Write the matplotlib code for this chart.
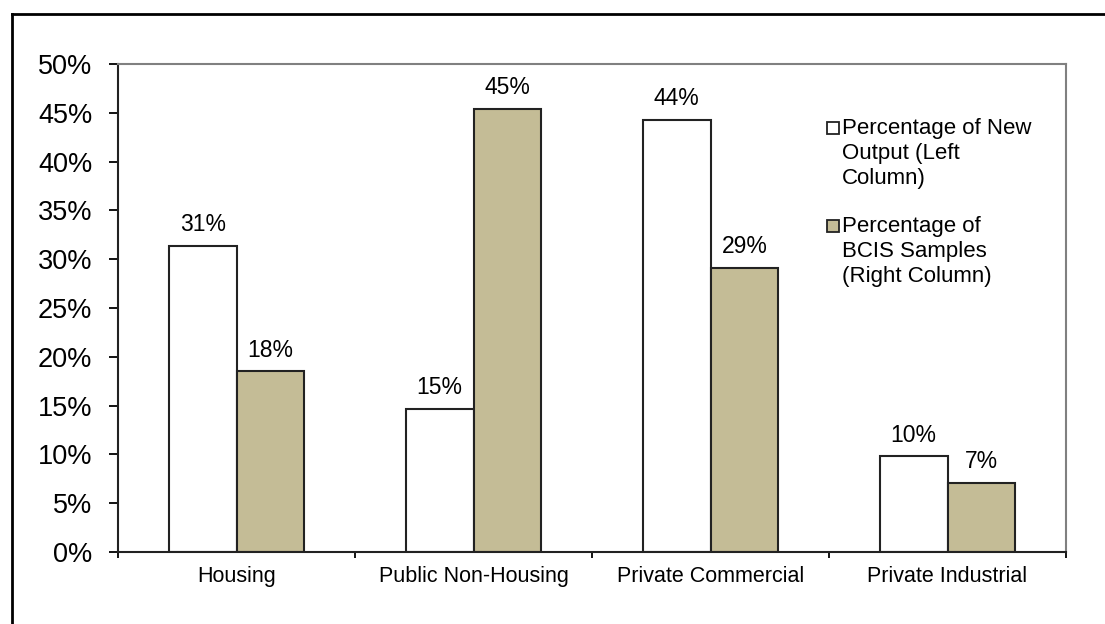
import numpy as np
import matplotlib
matplotlib.use("Agg")
from matplotlib import pyplot as plt
from matplotlib.patches import Rectangle
from matplotlib.lines import Line2D

plt.rcParams['font.family'] = ['Liberation Sans', 'DejaVu Sans']

categories = ["Housing", "Public Non-Housing", "Private Commercial", "Private Industrial"]
new_output = [31.4, 14.7, 44.3, 9.8]      # percentage of new output (left column)
bcis_samples = [18.5, 45.4, 29.1, 7.1]    # percentage of BCIS samples (right column)
new_labels = ["31%", "15%", "44%", "10%"]
bcis_labels = ["18%", "45%", "29%", "7%"]
legend_labels = ["Percentage of New\nOutput (Left\nColumn)",
                 "Percentage of\nBCIS Samples\n(Right Column)"]

tan = "#C4BC96"

fig = plt.figure(figsize=(11.05, 6.24), dpi=100)
ax = fig.add_axes([118/1105, 1 - 552/624, (1066-118)/1105, (552-64)/624])

# outer chart border (top and left visible)
fig.add_artist(Line2D([12/1105, 1.0], [1 - 14/624, 1 - 14/624], color="black", lw=2,
                      transform=fig.transFigure))
fig.add_artist(Line2D([12/1105, 12/1105], [0, 1 - 14/624], color="black", lw=2,
                      transform=fig.transFigure))

x = np.arange(len(categories))
w = 1 / 3.5
b1 = ax.bar(x - w/2, new_output, w, color="white", edgecolor="#222222", lw=1.5)
b2 = ax.bar(x + w/2, bcis_samples, w, color=tan, edgecolor="#222222", lw=1.5)

for rect, lab in zip(b1, new_labels):
    ax.text(rect.get_x() + rect.get_width()/2, rect.get_height() + 1.0, lab,
            ha="center", va="bottom", fontsize=16.5)
for rect, lab in zip(b2, bcis_labels):
    ax.text(rect.get_x() + rect.get_width()/2, rect.get_height() + 1.0, lab,
            ha="center", va="bottom", fontsize=16.5)

ax.set_xlim(-0.5, len(categories) - 0.5)
ax.set_ylim(0, 50)
ax.set_yticks(np.arange(0, 51, 5))
ax.set_yticklabels([f"{v}%" for v in range(0, 51, 5)], fontsize=19.5)
ax.set_xticks(np.arange(-0.5, len(categories), 1))
ax.set_xticklabels([])
ax.set_xticks(x, minor=True)
ax.set_xticklabels(categories, minor=True, fontsize=15.5)
ax.tick_params(axis="x", which="minor", length=0, pad=10)
ax.tick_params(axis="x", which="major", direction="out", length=4.5, width=1.3)
ax.tick_params(axis="y", direction="out", length=6.5, width=1.3, pad=12)

for s in ["left", "bottom"]:
    ax.spines[s].set_color("#222222")
    ax.spines[s].set_linewidth(1.5)
for s in ["top", "right"]:
    ax.spines[s].set_color("#808080")
    ax.spines[s].set_linewidth(1.5)

# legend drawn inside plot area
tr = ax.transAxes
def px(xp, yp):
    return ((xp - 118) / 948, (552 - yp) / 488)

for (yp, col, lab) in [(122, "white", legend_labels[0]), (220, tan, legend_labels[1])]:
    lx, ly = px(827, yp + 12)
    ax.add_patch(Rectangle((lx, ly), 12/948, 12/488, transform=tr, facecolor=col,
                           edgecolor="#222222", lw=1.3, clip_on=False))
    tx, ty = px(842, yp - 4)
    ax.text(tx, ty, lab, transform=tr, ha="left", va="top", fontsize=16,
            linespacing=1.25)

fig.savefig("out.png", dpi=100)
